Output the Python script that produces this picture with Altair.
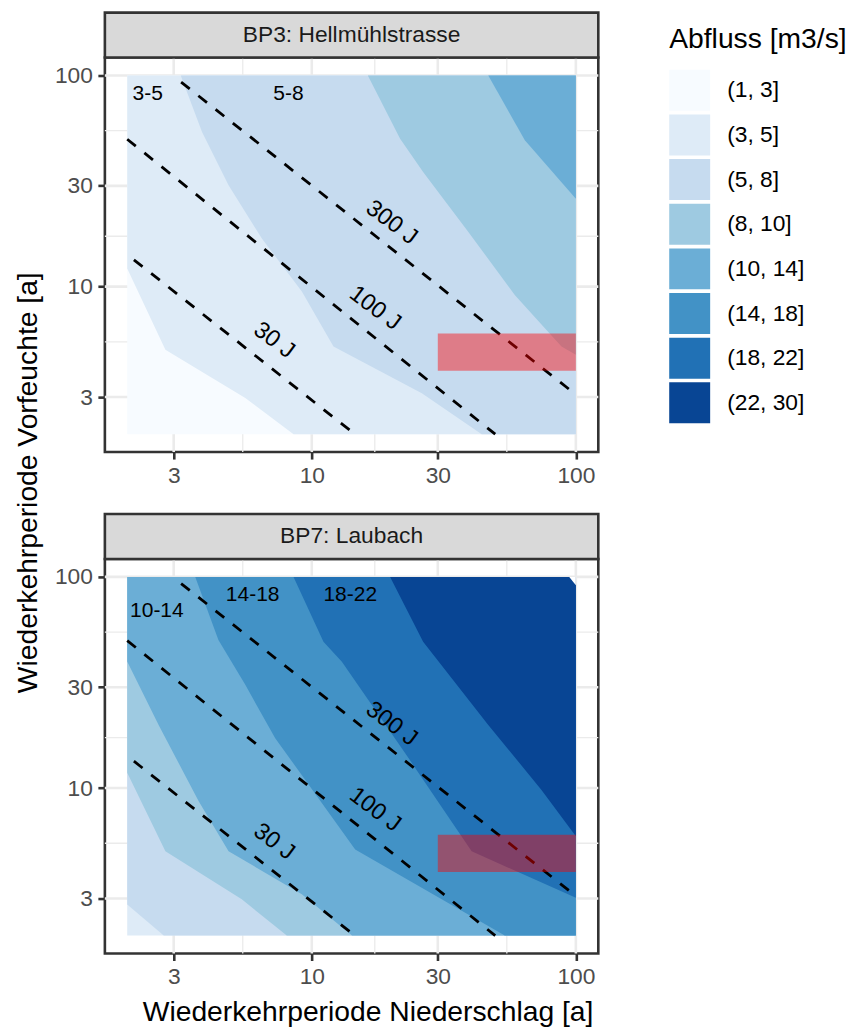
import altair as alt
import pandas as pd

# ---------------- data ----------------
CLASSES = ["(1, 3]", "(3, 5]", "(5, 8]", "(8, 10]", "(10, 14]", "(14, 18]", "(18, 22]", "(22, 30]"]
BLUES = ["#F7FBFF", "#DEEBF7", "#C6DBEF", "#9ECAE1", "#6BAED6", "#4292C6", "#2171B5", "#084594"]

PANEL_TITLES = ["BP3: Hellmühlstrasse", "BP7: Laubach"]
X_TITLE = "Wiederkehrperiode Niederschlag [a]"
Y_TITLE = "Wiederkehrperiode Vorfeuchte [a]"
LEGEND_TITLE = "Abfluss [m3/s]"

MAJOR_TICKS = [3, 10, 30, 100]
MINOR_GRID = [5.477, 17.32, 54.77]

BP3_CLS = ["(1, 3]", "(3, 5]", "(5, 8]", "(8, 10]", "(10, 14]"]
BP3_X = [
    [2, 100],
    [2.0, 2.79, 5.6, 8.53, 100],
    [3.19, 3.84, 4.84, 6.47, 9.17, 12.08, 26.1, 44.0, 100],
    [16.3, 21.6, 26.4, 39.1, 58.7, 88.2, 100],
    [46.6, 64.1, 100],
]
BP3_Y = [
    [2, 2],
    [12.2, 5.02, 2.97, 2.0, 2.0],
    [100, 54, 30.2, 16.9, 9.47, 5.21, 3.13, 2.0, 2.0],
    [100, 50.2, 34.9, 18.2, 9.13, 5.21, 4.76],
    [100, 49.3, 26.1],
]

BP7_CLS = ["(3, 5]", "(5, 8]", "(8, 10]", "(10, 14]", "(14, 18]", "(18, 22]", "(22, 30]"]
BP7_X = [
    [2, 100],
    [2.0, 2.75, 100],
    [2.0, 2.79, 5.43, 8.04, 100],
    [2.0, 2.63, 3.73, 4.84, 9.17, 14.2, 100],
    [3.62, 4.43, 5.6, 7.27, 9.72, 14.6, 53.8, 100],
    [8.53, 11.07, 13.0, 23.2, 40.3, 100],
    [19.8, 26.4, 46.6, 74.1, 100],
]
BP7_Y = [
    [2, 2],
    [2.81, 2.0, 2.0],
    [11.8, 5.02, 2.97, 2.0, 2.0],
    [39.7, 19.9, 8.65, 5.02, 3.14, 2.0, 2.0],
    [100, 50.2, 30.8, 17.2, 10.4, 5.12, 2.0, 2.0],
    [100, 49.3, 39.6, 13.9, 5.02, 3.02],
    [100, 49.3, 19.9, 9.8, 5.91],
]
BP7_GAP_X = [94.4, 100]
BP7_GAP_Y = [100, 91.4]

ISO_NAMES = ["30 J", "100 J", "300 J"]
ISO_X = [[2.12, 14.2], [2.0, 49.5], [3.2, 100]]
ISO_Y = [[13.4, 2.05], [49.9, 2.0], [93.0, 3.08]]
ISO_LBL_X = [7.2, 17.36, 20.07]
ISO_LBL_Y = [5.56, 7.9, 20.1]

RECT_X = [30, 100]
RECT_Y = [4, 6]

BP3_LBL = ["3-5", "5-8"]
BP3_LBL_X = [2.39, 8.16]
BP3_LBL_Y = [81.9, 81.9]
BP7_LBL = ["10-14", "14-18", "18-22"]
BP7_LBL_X = [2.59, 5.97, 13.98]
BP7_LBL_Y = [69.0, 82.5, 82.5]

# ---------------- styling ----------------
FONT = "Liberation Sans"
W, H = 494, 395
DOM = [1.646, 121.6]
SMALL = 22.8
BIG = 28.3
CS = alt.Scale(domain=CLASSES, range=BLUES)


def make_axis(title):
    kw = dict(values=MAJOR_TICKS, format="d", grid=False, domain=False, ticks=True,
              tickSize=7, tickWidth=2.6, tickColor="#333333", labelFontSize=SMALL,
              labelColor="#4D4D4D", labelPadding=5.5, labelFlush=False, labelFont=FONT)
    if title:
        kw.update(title=title, titleFontSize=BIG, titleFontWeight="normal",
                  titleColor="black", titleFont=FONT, titlePadding=10,
                  titleX=263, titleAlign="center")
    else:
        kw.update(title=None)
    return alt.Axis(**kw)


def panel(idx, cls_list, xs_list, ys_list, lbl, lbl_x, lbl_y, top):
    XA = make_axis(None if top else X_TITLE)
    YA = make_axis(None)
    X = lambda f: alt.X(f, type="quantitative", scale=alt.Scale(type="log", domain=DOM, nice=False), axis=XA)
    Y = lambda f: alt.Y(f, type="quantitative", scale=alt.Scale(type="log", domain=DOM, nice=False), axis=YA)

    layers = []
    layers.append(alt.Chart(pd.DataFrame({"v": MAJOR_TICKS})).mark_rule(color="#EBEBEB", strokeWidth=2.6)
                  .encode(x=X("v")))
    layers.append(alt.Chart(pd.DataFrame({"v": MINOR_GRID})).mark_rule(color="#EBEBEB", strokeWidth=1.3)
                  .encode(x=X("v")))
    layers.append(alt.Chart(pd.DataFrame({"v": MAJOR_TICKS})).mark_rule(color="#EBEBEB", strokeWidth=2.6)
                  .encode(y=Y("v")))
    layers.append(alt.Chart(pd.DataFrame({"v": MINOR_GRID})).mark_rule(color="#EBEBEB", strokeWidth=1.3)
                  .encode(y=Y("v")))

    legend = None
    if top:
        legend = alt.Legend(title=LEGEND_TITLE, orient="none", legendX=565, legendY=-32,
                            symbolType="square", symbolSize=1681, symbolStrokeWidth=0,
                            symbolOpacity=1, labelFontSize=SMALL, labelFont=FONT,
                            labelColor="black", titleFontSize=BIG, titleFont=FONT,
                            titleFontWeight="normal", titleColor="black", rowPadding=3.7,
                            labelOffset=17, titlePadding=16, padding=0)
    for c, xs, ys in zip(cls_list, xs_list, ys_list):
        df = pd.DataFrame({"x": xs, "y": ys, "top": [100] * len(xs), "cls": [c] * len(xs)})
        if top:
            layers.append(alt.Chart(df).mark_area().encode(
                x=X("x"), y=Y("y"), y2="top:Q",
                color=alt.Color("cls:N", scale=CS, legend=legend)))
        else:
            layers.append(alt.Chart(df).mark_area(color=BLUES[CLASSES.index(c)]).encode(
                x=X("x"), y=Y("y"), y2="top:Q"))
    if not top:
        df = pd.DataFrame({"x": BP7_GAP_X, "y": BP7_GAP_Y, "top": [100, 100]})
        layers.append(alt.Chart(df).mark_area(color="white").encode(
            x=X("x"), y=Y("y"), y2="top:Q"))

    rows = []
    for n, xs, ys in zip(ISO_NAMES, ISO_X, ISO_Y):
        for a, b in zip(xs, ys):
            rows.append({"line": n, "x": a, "y": b})
    layers.append(alt.Chart(pd.DataFrame(rows)).mark_line(color="black", strokeWidth=2.8,
                                                          strokeDash=[11, 11]).encode(
        x=X("x"), y=Y("y"), detail="line:N"))

    layers.append(alt.Chart(pd.DataFrame({"x": [RECT_X[0]], "x2": [RECT_X[1]],
                                          "y": [RECT_Y[0]], "y2": [RECT_Y[1]]}))
                  .mark_rect(color="red", opacity=0.43).encode(
        x=X("x"), x2="x2:Q", y=Y("y"), y2="y2:Q"))

    layers.append(alt.Chart(pd.DataFrame({"x": lbl_x, "y": lbl_y, "t": lbl}))
                  .mark_text(fontSize=21, font=FONT, color="black").encode(
        x=X("x"), y=Y("y"), text="t:N"))
    layers.append(alt.Chart(pd.DataFrame({"x": ISO_LBL_X, "y": ISO_LBL_Y, "t": ISO_NAMES}))
                  .mark_text(fontSize=23.5, font=FONT, color="black", angle=37).encode(
        x=X("x"), y=Y("y"), text="t:N"))

    sdf = pd.DataFrame({"t": [PANEL_TITLES[idx]]})
    layers.append(alt.Chart(sdf).mark_rect(fill="#D9D9D9", stroke="#333333", strokeWidth=2.6).encode(
        x=alt.value(0), x2=alt.value(W), y=alt.value(-45), y2=alt.value(0)))
    layers.append(alt.Chart(sdf).mark_text(fontSize=SMALL, font=FONT, color="#1A1A1A",
                                           align="center", baseline="middle").encode(
        x=alt.value(W / 2), y=alt.value(-23), text="t:N"))

    if top:
        layers.append(alt.Chart(pd.DataFrame({"t": [Y_TITLE]})).mark_text(
            fontSize=BIG, font=FONT, color="black", angle=270, align="center", baseline="middle").encode(
            x=alt.value(-76), y=alt.value(425.7), text="t:N"))
        layers.append(alt.Chart(pd.DataFrame({"t": [""]})).mark_rect(fill="white").encode(
            x=alt.value(-103), x2=alt.value(-102), y=alt.value(-55), y2=alt.value(-54)))

    return alt.layer(*layers).properties(width=W, height=H)


top = panel(0, BP3_CLS, BP3_X, BP3_Y, BP3_LBL, BP3_LBL_X, BP3_LBL_Y, True)
bottom = panel(1, BP7_CLS, BP7_X, BP7_Y, BP7_LBL, BP7_LBL_X, BP7_LBL_Y, False)

chart = (alt.vconcat(top, bottom, spacing=107)
         .properties(bounds="flush", padding=0)
         .resolve_scale(color="independent")
         .resolve_legend(color="independent")
         .configure(font=FONT)
         .configure_view(stroke="#333333", strokeWidth=2.6))

chart.save("out.html", embed_options={"renderer": "svg", "actions": False})
